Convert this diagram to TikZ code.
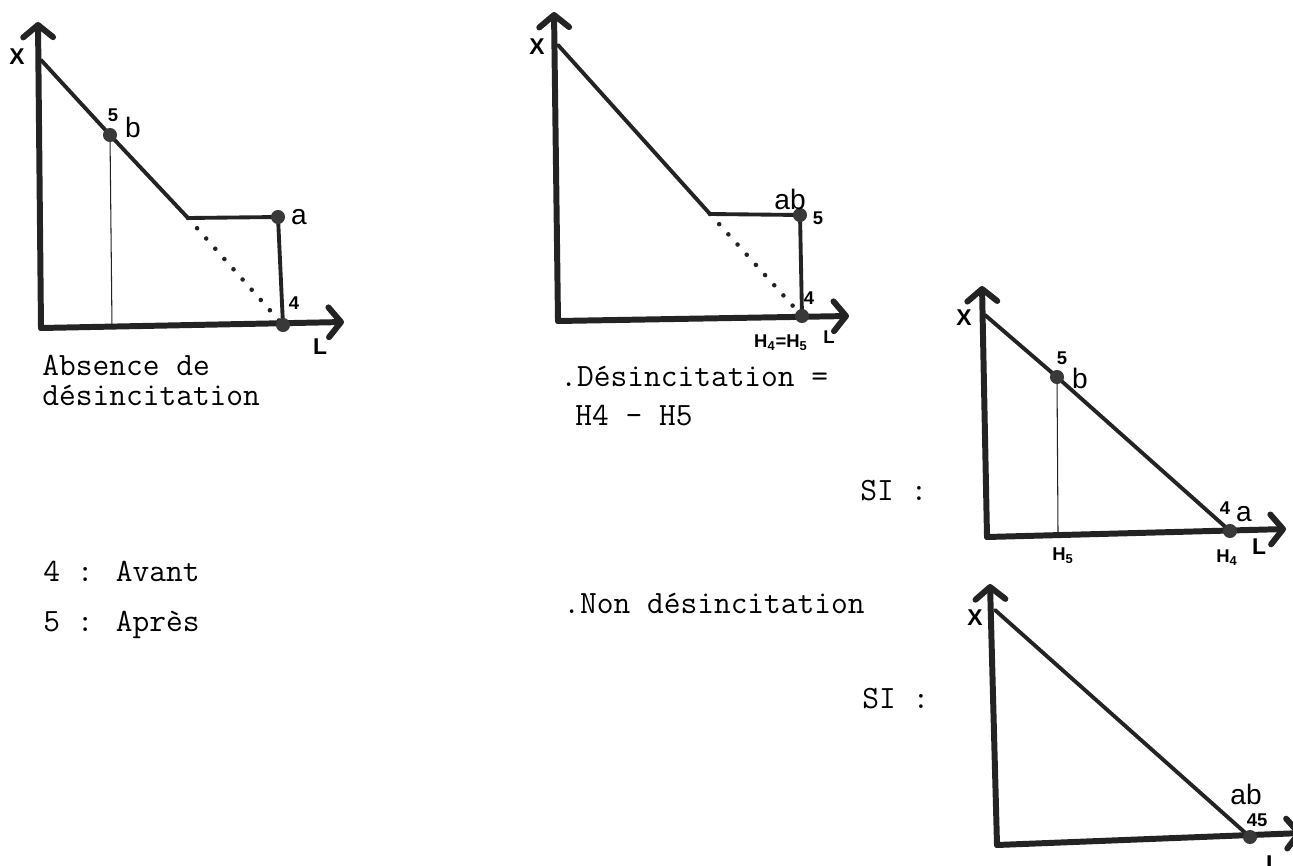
\documentclass[tikz,border=0pt]{standalone}
\usepackage{fontspec}
\newfontfamily\lblfont{Liberation Sans}
\usetikzlibrary{arrows.meta}
\definecolor{colInk}{RGB}{35,35,35}

\begin{document}
\begin{tikzpicture}[
  x=0.02cm, y=-0.02cm,
  axis/.style={line width=3.4pt, colInk, line cap=round, line join=round,
               -{Straight Barb[length=7pt, width=17pt, round]}},
  curve/.style={line width=2.2pt, colInk, line cap=round, line join=round},
  proj/.style={line width=0.6pt, colInk},
  dots/.style={line width=2.6pt, colInk, line cap=round, dash pattern=on 0pt off 7.8pt},
  pt/.style={fill=colInk!90},
  lbl/.style={font=\lblfont\fontsize{16}{16}\selectfont, inner sep=0pt},
  axlbl/.style={font=\lblfont\bfseries\fontsize{13}{13}\selectfont, inner sep=0pt},
  idx/.style={font=\lblfont\bfseries\fontsize{10.5}{10.5}\selectfont, inner sep=0pt},
  txt/.style={font=\ttfamily\fontsize{18.5}{20}\selectfont, inner sep=0pt, anchor=base west},
]
\useasboundingbox (0,0) rectangle (1293,865);
\clip (0,0) rectangle (1293,865);

% diagram 1 : absence de desincitation
\coordinate (o1) at (41,328);
\coordinate (y1) at (38,22);
\coordinate (xt1) at (344,322);
\coordinate (s1) at (41,60);
\coordinate (b1) at (110,135);
\coordinate (k1) at (188,218);
\coordinate (a1) at (278,217);
\coordinate (p1) at (283,325);
\coordinate (f1) at (112,327);

\draw[proj] (b1) -- (f1);
\draw[dots] (k1) -- (p1);
\draw[curve] (s1) -- (b1) -- (k1) -- (a1) -- (p1);
\draw[axis] (o1) -- (y1);
\draw[axis] (o1) -- (xt1);
\fill[pt] (b1) circle (4pt) (a1) circle (4pt) (p1) circle (4pt);

\node[axlbl] (lx1) at (17,57) {X};
\node[idx] (l51) at (113,115) {5};
\node[lbl] (lb1) at (133,127) {b};
\node[lbl] (la1) at (299,217) {a};
\node[idx] (l41) at (294,303) {4};
\node[axlbl] (ll1) at (320,347) {L};

\node[txt] (t1a) at (42,375) {Absence de};
\node[txt] (t1b) at (42,405) {désincitation};

% diagram 2 : desincitation
\coordinate (o2) at (558,321);
\coordinate (y2) at (554,12);
\coordinate (xt2) at (849,316);
\coordinate (s2) at (558,45);
\coordinate (k2) at (710,214);
\coordinate (a2) at (800,215);
\coordinate (p2) at (802,316);

\draw[dots] (k2) -- (p2);
\draw[curve] (s2) -- (k2) -- (a2) -- (p2);
\draw[axis] (o2) -- (y2);
\draw[axis] (o2) -- (xt2);
\fill[pt] (a2) circle (4pt) (p2) circle (4pt);

\node[axlbl] (lx2) at (537,47) {X};
\node[lbl] (lab2) at (790,199) {ab};
\node[idx] (l52) at (818,218) {5};
\node[idx] (l42) at (809,298) {4};
\node[idx] (lh2) at (781,343) {H\textsubscript{4}=H\textsubscript{5}};
\node[idx] (ll2) at (829,337) {L};

\node[txt] (t2a) at (560,386) {.Désincitation =};
\node[txt] (t2b) at (575,425) {H4 - H5};

% diagram 3 : SI
\coordinate (o3) at (987,537);
\coordinate (y3) at (982,286);
\coordinate (xt3) at (1286,529);
\coordinate (s3) at (985,315);
\coordinate (b3) at (1057,377);
\coordinate (a3) at (1230,531);
\coordinate (f3) at (1058,533);

\draw[proj] (b3) -- (f3);
\draw[curve] (s3) -- (b3) -- (a3);
\draw[axis] (o3) -- (y3);
\draw[axis] (o3) -- (xt3);
\fill[pt] (b3) circle (4pt) (a3) circle (4pt);

\node[axlbl] (lx3) at (964,318) {X};
\node[idx] (l53) at (1062,358) {5};
\node[lbl] (lb3) at (1080,378) {b};
\node[idx] (l43) at (1225,508) {4};
\node[lbl] (la3) at (1244,514) {a};
\node[idx] (lh53) at (1063,556) {H\textsubscript{5}};
\node[idx] (lh43) at (1227,558) {H\textsubscript{4}};
\node[axlbl] (ll3) at (1259,547) {L};

\node[txt] (t3) at (860,500) {SI :};

% diagram 4 : non desincitation
\coordinate (o4) at (997,845);
\coordinate (y4) at (990,584);
\coordinate (xt4) at (1302,833);
\coordinate (s4) at (995,610);
\coordinate (a4) at (1250,837);

\draw[curve] (s4) -- (a4);
\draw[axis] (o4) -- (y4);
\draw[axis] (o4) -- (xt4);
\fill[pt] (a4) circle (4pt);

\node[axlbl] (lx4) at (975,618) {X};
\node[lbl] (lab4) at (1246,794) {ab};
\node[idx] (l454) at (1257,820) {45};
\node[axlbl] (ll4) at (1273,864) {L};

\node[txt] (t4a) at (563,613) {.Non désincitation};
\node[txt] (t4b) at (862,708) {SI :};

% legende
\node[txt] (leg4) at (43,581) {4 : Avant};
\node[txt] (leg5) at (43,631) {5 : Après};
\end{tikzpicture}
\end{document}
